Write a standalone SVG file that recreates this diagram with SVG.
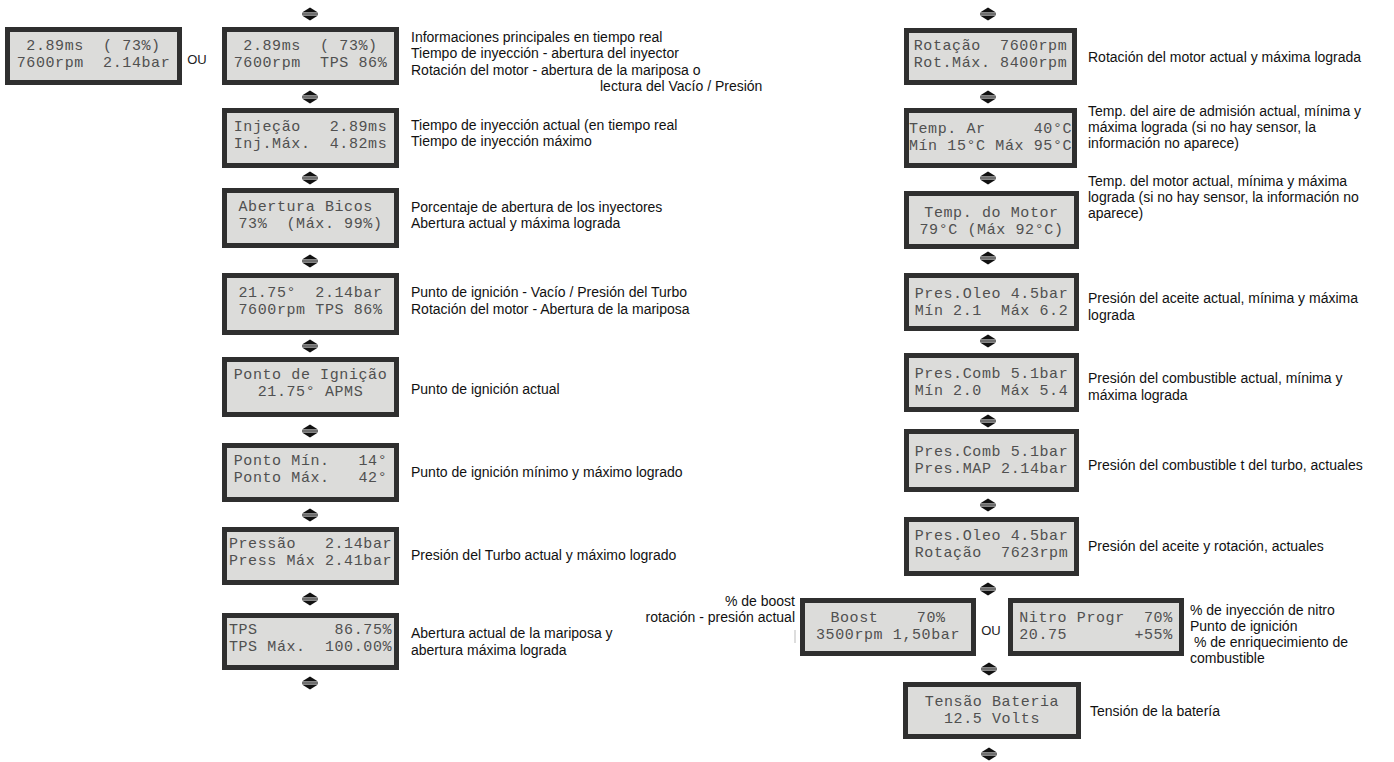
<svg xmlns="http://www.w3.org/2000/svg" xmlns:xlink="http://www.w3.org/1999/xlink" width="1394" height="762" viewBox="0 0 1394 762">
  <style>
    .scr { fill: #dcdcda; stroke: #2f2f2f; stroke-width: 5; }
    .lcd { font-family: "Liberation Mono", "DejaVu Sans Mono", monospace; font-size: 15px; letter-spacing: 0.6px; fill: #505050; text-anchor: middle; white-space: pre; }
    .lbl { font-family: "Liberation Sans", Arial, sans-serif; font-size: 14px; fill: #111; }
    .end { text-anchor: end; }
    .ou { font-family: "Liberation Sans", Arial, sans-serif; font-size: 13px; fill: #222; text-anchor: middle; }
  </style>
  <defs>
    <!-- up/down navigation marker between screens -->
    <g id="ud">
      <path d="M-8,-1.5 L0,-6.5 L8,-1.5 Z" fill="#111"/>
      <rect x="-8" y="-0.6" width="16" height="1.2" fill="#111"/>
      <path d="M-8,1.5 L0,6.5 L8,1.5 Z" fill="#111"/>
    </g>
  </defs>
  <rect width="1394" height="762" fill="#fff"/>

  <!-- navigation connectors -->
  <g id="connectors">
    <use xlink:href="#ud" x="310" y="14"/>
    <use xlink:href="#ud" x="310" y="97"/>
    <use xlink:href="#ud" x="310" y="178"/>
    <use xlink:href="#ud" x="310" y="261"/>
    <use xlink:href="#ud" x="310" y="346"/>
    <use xlink:href="#ud" x="310" y="431"/>
    <use xlink:href="#ud" x="310" y="515"/>
    <use xlink:href="#ud" x="310" y="599"/>
    <use xlink:href="#ud" x="310" y="683"/>

    <use xlink:href="#ud" x="988" y="14"/>
    <use xlink:href="#ud" x="988" y="97"/>
    <use xlink:href="#ud" x="988" y="178"/>
    <use xlink:href="#ud" x="988" y="258"/>
    <use xlink:href="#ud" x="988" y="341"/>
    <use xlink:href="#ud" x="988" y="421"/>
    <use xlink:href="#ud" x="988" y="505"/>
    <use xlink:href="#ud" x="988" y="589"/>
    <use xlink:href="#ud" x="989" y="669"/>
    <use xlink:href="#ud" x="989" y="754"/>
  </g>

  <!-- left column screens -->
  <g id="s-main-a">
    <rect class="scr" x="7.5" y="29.5" width="172" height="53"/>
    <text class="lcd" x="93.5" y="50">2.89ms  ( 73%)</text>
    <text class="lcd" x="93.5" y="67">7600rpm  2.14bar</text>
  </g>
  <text class="ou" x="197" y="64">OU</text>
  <g id="s-main-b">
    <rect class="scr" x="224.5" y="29.5" width="172" height="53"/>
    <text class="lcd" x="310.5" y="50">2.89ms  ( 73%)</text>
    <text class="lcd" x="310.5" y="67">7600rpm  TPS 86%</text>
  </g>
  <g id="s-inj">
    <rect class="scr" x="224.5" y="110.5" width="172" height="55"/>
    <text class="lcd" x="310.5" y="131">Injeção   2.89ms</text>
    <text class="lcd" x="310.5" y="148">Inj.Máx.  4.82ms</text>
  </g>
  <g id="s-bicos">
    <rect class="scr" x="224.5" y="190.5" width="172" height="55"/>
    <text class="lcd" x="310.5" y="211">Abertura Bicos </text>
    <text class="lcd" x="310.5" y="228">73%  (Máx. 99%)</text>
  </g>
  <g id="s-ign-turbo">
    <rect class="scr" x="224.5" y="275.5" width="172" height="57"/>
    <text class="lcd" x="310.5" y="297">21.75°  2.14bar</text>
    <text class="lcd" x="310.5" y="314">7600rpm TPS 86%</text>
  </g>
  <g id="s-ign">
    <rect class="scr" x="224.5" y="359.5" width="172" height="55"/>
    <text class="lcd" x="310.5" y="379">Ponto de Ignição</text>
    <text class="lcd" x="310.5" y="396">21.75° APMS</text>
  </g>
  <g id="s-ign-minmax">
    <rect class="scr" x="224.5" y="445.5" width="172" height="54"/>
    <text class="lcd" x="310.5" y="465">Ponto Mín.   14°</text>
    <text class="lcd" x="310.5" y="482">Ponto Máx.   42°</text>
  </g>
  <g id="s-pressao">
    <rect class="scr" x="224.5" y="529.5" width="172" height="53"/>
    <text class="lcd" x="310.5" y="548">Pressão   2.14bar</text>
    <text class="lcd" x="310.5" y="565">Press Máx 2.41bar</text>
  </g>
  <g id="s-tps">
    <rect class="scr" x="224.5" y="615.5" width="172" height="52"/>
    <text class="lcd" x="310.5" y="634">TPS        86.75%</text>
    <text class="lcd" x="310.5" y="651">TPS Máx.  100.00%</text>
  </g>

  <!-- right column screens -->
  <g id="s-rot">
    <rect class="scr" x="906.5" y="30.5" width="168" height="52"/>
    <text class="lcd" x="990.5" y="50">Rotação  7600rpm</text>
    <text class="lcd" x="990.5" y="67">Rot.Máx. 8400rpm</text>
  </g>
  <g id="s-temp-ar">
    <rect class="scr" x="906.5" y="110.5" width="168" height="55"/>
    <text class="lcd" x="990.5" y="133">Temp. Ar     40°C</text>
    <text class="lcd" x="990.5" y="150">Mín 15°C Máx 95°C</text>
  </g>
  <g id="s-temp-motor">
    <rect class="scr" x="906.5" y="193.5" width="170" height="53"/>
    <text class="lcd" x="991.5" y="217">Temp. do Motor</text>
    <text class="lcd" x="991.5" y="234">79°C (Máx 92°C)</text>
  </g>
  <g id="s-oleo">
    <rect class="scr" x="906.5" y="275.5" width="170" height="53"/>
    <text class="lcd" x="991.5" y="298">Pres.Oleo 4.5bar</text>
    <text class="lcd" x="991.5" y="315">Mín 2.1  Máx 6.2</text>
  </g>
  <g id="s-comb">
    <rect class="scr" x="906.5" y="355.5" width="170" height="54"/>
    <text class="lcd" x="991.5" y="378">Pres.Comb 5.1bar</text>
    <text class="lcd" x="991.5" y="395">Mín 2.0  Máx 5.4</text>
  </g>
  <g id="s-comb-map">
    <rect class="scr" x="906.5" y="431.5" width="170" height="58"/>
    <text class="lcd" x="991.5" y="456">Pres.Comb 5.1bar</text>
    <text class="lcd" x="991.5" y="473">Pres.MAP 2.14bar</text>
  </g>
  <g id="s-oleo-rot">
    <rect class="scr" x="906.5" y="519.5" width="170" height="54"/>
    <text class="lcd" x="991.5" y="540">Pres.Oleo 4.5bar</text>
    <text class="lcd" x="991.5" y="557">Rotação  7623rpm</text>
  </g>
  <g id="s-boost">
    <rect class="scr" x="802.5" y="600.5" width="171" height="53"/>
    <text class="lcd" x="888" y="622">Boost    70%</text>
    <text class="lcd" x="888" y="639">3500rpm 1,50bar</text>
  </g>
  <text class="ou" x="991" y="635">OU</text>
  <g id="s-nitro">
    <rect class="scr" x="1010.5" y="600.5" width="171" height="53"/>
    <text class="lcd" x="1096" y="622">Nitro Progr  70%</text>
    <text class="lcd" x="1096" y="639">20.75       +55%</text>
  </g>
  <g id="s-bateria">
    <rect class="scr" x="905.5" y="684.5" width="173" height="52"/>
    <text class="lcd" x="992" y="706">Tensão Bateria</text>
    <text class="lcd" x="992" y="723">12.5 Volts</text>
  </g>

  <!-- descriptions, left column -->
  <g id="d-main">
    <text class="lbl" x="411" y="42">Informaciones principales en tiempo real</text>
    <text class="lbl" x="411" y="58">Tiempo de inyección - abertura del inyector</text>
    <text class="lbl" x="411" y="75">Rotación del motor - abertura de la mariposa o</text>
    <text class="lbl" x="600" y="91">lectura del Vacío / Presión</text>
  </g>
  <g id="d-inj">
    <text class="lbl" x="411" y="130">Tiempo de inyección actual (en tiempo real</text>
    <text class="lbl" x="411" y="146">Tiempo de inyección máximo</text>
  </g>
  <g id="d-bicos">
    <text class="lbl" x="411" y="212">Porcentaje de abertura de los inyectores</text>
    <text class="lbl" x="411" y="228">Abertura actual y máxima lograda</text>
  </g>
  <g id="d-ign-turbo">
    <text class="lbl" x="411" y="297">Punto de ignición - Vacío / Presión del Turbo</text>
    <text class="lbl" x="411" y="314">Rotación del motor - Abertura de la mariposa</text>
  </g>
  <text id="d-ign" class="lbl" x="411" y="394">Punto de ignición actual</text>
  <text id="d-ign-minmax" class="lbl" x="411" y="477">Punto de ignición mínimo y máximo logrado</text>
  <text id="d-pressao" class="lbl" x="411" y="560">Presión del Turbo actual y máximo logrado</text>
  <g id="d-tps">
    <text class="lbl" x="411" y="638">Abertura actual de la mariposa y</text>
    <text class="lbl" x="411" y="655">abertura máxima lograda</text>
  </g>

  <!-- descriptions, right column -->
  <text id="d-rot" class="lbl" x="1088" y="62">Rotación del motor actual y máxima lograda</text>
  <g id="d-temp-ar">
    <text class="lbl" x="1088" y="116">Temp. del aire de admisión actual, mínima y</text>
    <text class="lbl" x="1088" y="132">máxima lograda (si no hay sensor, la</text>
    <text class="lbl" x="1088" y="148">información no aparece)</text>
  </g>
  <g id="d-temp-motor">
    <text class="lbl" x="1088" y="186">Temp. del motor actual, mínima y máxima</text>
    <text class="lbl" x="1088" y="202">lograda (si no hay sensor, la información no</text>
    <text class="lbl" x="1088" y="218">aparece)</text>
  </g>
  <g id="d-oleo">
    <text class="lbl" x="1088" y="303">Presión del aceite actual, mínima y máxima</text>
    <text class="lbl" x="1088" y="320">lograda</text>
  </g>
  <g id="d-comb">
    <text class="lbl" x="1088" y="383">Presión del combustible actual, mínima y</text>
    <text class="lbl" x="1088" y="400">máxima lograda</text>
  </g>
  <text id="d-comb-map" class="lbl" x="1088" y="470">Presión del combustible t del turbo, actuales</text>
  <text id="d-oleo-rot" class="lbl" x="1088" y="551">Presión del aceite y rotación, actuales</text>
  <g id="d-boost">
    <text class="lbl end" x="795" y="606">% de boost</text>
    <text class="lbl end" x="795" y="622">rotación - presión actual</text>
    <rect x="794.5" y="630" width="1" height="13" fill="#bbb"/>
  </g>
  <g id="d-nitro">
    <text class="lbl" x="1190" y="615">% de inyección de nitro</text>
    <text class="lbl" x="1190" y="631">Punto de ignición</text>
    <text class="lbl" x="1194" y="647">% de enriquecimiento de</text>
    <text class="lbl" x="1190" y="663">combustible</text>
  </g>
  <text id="d-bateria" class="lbl" x="1090" y="716">Tensión de la batería</text>
</svg>
